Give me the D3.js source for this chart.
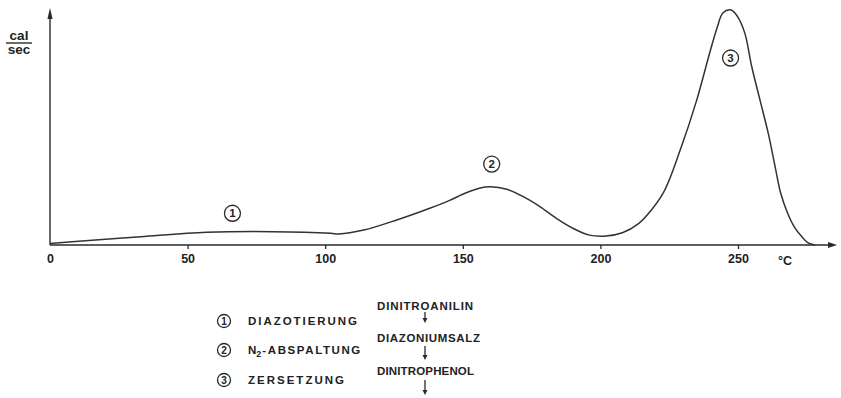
<!DOCTYPE html>
<html>
<head>
<meta charset="utf-8">
<script src="https://cdn.jsdelivr.net/npm/d3@7"></script>
<style>
  html, body { margin: 0; padding: 0; background: #ffffff; }
  svg { display: block; }
  text { font-family: "Liberation Sans", Arial, sans-serif; fill: #222; }
</style>
</head>
<body>
<svg id="chart" width="841" height="398"></svg>
<script>
// Heat flow of the thermal decomposition (DTA-type curve), °C vs. cal/sec
const temperatures = [0, 8, 33, 57, 81, 102, 105, 114, 126, 138, 145, 151, 156, 160, 166, 172, 178, 184, 190, 196, 202, 208, 214, 217, 223, 229, 235, 240, 242.5, 244.5, 247.5, 250, 252.5, 255, 258, 261, 263.5, 265.5, 268, 270.5, 273, 275.5, 278];
const heatFlow     = [0.6, 1.4, 3.6, 5.5, 5.8, 5.1, 4.8, 6.5, 10.9, 16.0, 19.3, 22.6, 24.7, 25.3, 24.2, 21.0, 16.7, 11.6, 7.3, 4.3, 3.9, 5.3, 9.4, 13.0, 23.0, 41.3, 63.0, 84.8, 94.8, 100.9, 102.2, 99.0, 92.0, 77.5, 63.0, 48.5, 34.0, 22.6, 13.9, 7.8, 3.9, 0.9, 0];

const tickValues = [0, 50, 100, 150, 200, 250];
const tickLabels = ["0", "50", "100", "150", "200", "250"];

// Peak markers on the curve
const peakIds   = ["1", "2", "3"];
const peakTemps = [66.3, 160.5, 247.3];
const peakLevel = [13.8, 35.2, 81.3];

// Legend: reaction steps and the substance sequence
const stepIds     = ["1", "2", "3"];
const stepNames   = ["DIAZOTIERUNG", "N|2|-ABSPALTUNG", "ZERSETZUNG"];
const substances  = ["DINITROANILIN", "DIAZONIUMSALZ", "DINITROPHENOL"];

const svg = d3.select("#chart");
const ink = "#2a2a2a";

const x = d3.scaleLinear().domain([0, 250]).range([50, 738]);
const y = d3.scaleLinear().domain([0, 100]).range([245, 15]);

// Axes with arrowheads
const xEnd = x(286), yTop = 8;
svg.append("line").attr("x1", x(0)).attr("x2", xEnd - 4).attr("y1", y(0)).attr("y2", y(0))
  .attr("stroke", ink).attr("stroke-width", 1.4);
svg.append("path").attr("d", `M${xEnd},${y(0)} L${xEnd - 9},${y(0) - 3} L${xEnd - 9},${y(0) + 3} Z`).attr("fill", ink);
svg.append("line").attr("x1", x(0)).attr("x2", x(0)).attr("y1", y(0)).attr("y2", yTop + 6)
  .attr("stroke", ink).attr("stroke-width", 1.4);
svg.append("path").attr("d", `M${x(0)},${yTop} L${x(0) - 2.6},${yTop + 11} L${x(0) + 2.6},${yTop + 11} Z`).attr("fill", ink);

const xAxis = d3.axisBottom(x)
  .tickValues(tickValues)
  .tickFormat((d, i) => tickLabels[i])
  .tickSize(4)
  .tickPadding(5);

const gx = svg.append("g").attr("transform", `translate(0,${y(0)})`).call(xAxis);
gx.select(".domain").remove();
gx.selectAll(".tick line").attr("stroke", ink).attr("stroke-width", 1.3)
  .filter(d => d === 0).remove();
gx.selectAll(".tick text")
  .attr("fill", ink)
  .style("font-family", "'Liberation Sans', Arial, sans-serif")
  .style("font-size", "12.5px")
  .style("font-weight", "bold");

svg.append("text").attr("x", 778).attr("y", 265)
  .style("font-size", "12.5px").style("font-weight", "bold").attr("fill", ink)
  .text("°C");

// Unit label cal / sec
svg.append("text").attr("x", 19).attr("y", 40).attr("text-anchor", "middle")
  .style("font-size", "13.5px").style("font-weight", "bold").attr("fill", ink).text("cal");
svg.append("line").attr("x1", 6).attr("x2", 32).attr("y1", 43).attr("y2", 43)
  .attr("stroke", ink).attr("stroke-width", 1.4);
svg.append("text").attr("x", 19).attr("y", 54).attr("text-anchor", "middle")
  .style("font-size", "13.5px").style("font-weight", "bold").attr("fill", ink).text("sec");

// The curve
const pts = temperatures.map((t, i) => [t, heatFlow[i]]);
const line = d3.line().x(d => x(d[0])).y(d => y(d[1])).curve(d3.curveCatmullRom.alpha(0.5));
svg.append("path").datum(pts).attr("d", line)
  .attr("fill", "none").attr("stroke", "#333").attr("stroke-width", 1.5)
  .attr("stroke-linejoin", "round");

// Circled numbers
function circled(cx, cy, r, label, fs) {
  const g = svg.append("g");
  g.append("circle").attr("cx", cx).attr("cy", cy).attr("r", r)
    .attr("fill", "none").attr("stroke", ink).attr("stroke-width", 1.3);
  g.append("text").attr("x", cx).attr("y", cy).attr("dy", "0.36em")
    .attr("text-anchor", "middle").style("font-size", fs + "px").style("font-weight", "bold")
    .attr("fill", ink).text(label);
}
peakIds.forEach((id, i) => circled(x(peakTemps[i]), y(peakLevel[i]), 8, id, 11.5));

// Legend
const rowY = [321, 350, 380];
const nameWidth = [109, 124, 96];
stepIds.forEach((id, i) => {
  circled(224, rowY[i], 6.5, id, 10);
  const parts = stepNames[i].split("|");
  const t = svg.append("text").attr("x", 248).attr("y", rowY[i] + 4.2)
    .style("font-size", "11.5px").style("font-weight", "bold").attr("fill", ink);
  if (parts.length === 1) {
    t.attr("textLength", nameWidth[i]).attr("lengthAdjust", "spacing").text(parts[0]);
  } else {
    t.append("tspan").text(parts[0]);
    t.append("tspan").attr("dy", 3).style("font-size", "9px").text(parts[1]);
    t.append("tspan").attr("dy", -3).attr("dx", 1).style("letter-spacing", "1.6px").text(parts[2]);
  }
});

const subY = [310, 341.5, 375];
const subWidth = [96, 103, 97];
substances.forEach((s, i) => {
  svg.append("text").attr("x", 377).attr("y", subY[i])
    .attr("textLength", subWidth[i]).attr("lengthAdjust", "spacing")
    .style("font-size", "11.5px").style("font-weight", "bold").attr("fill", ink).text(s);
});

// Down arrows between the substances
const arrowSpans = [[312, 323], [346, 360], [380, 395]];
arrowSpans.forEach(([a, b]) => {
  svg.append("line").attr("x1", 425).attr("x2", 425).attr("y1", a).attr("y2", b - 3)
    .attr("stroke", ink).attr("stroke-width", 1.3);
  svg.append("path").attr("d", `M425,${b} L422.5,${b - 5} L427.5,${b - 5} Z`).attr("fill", ink);
});
</script>
</body>
</html>
